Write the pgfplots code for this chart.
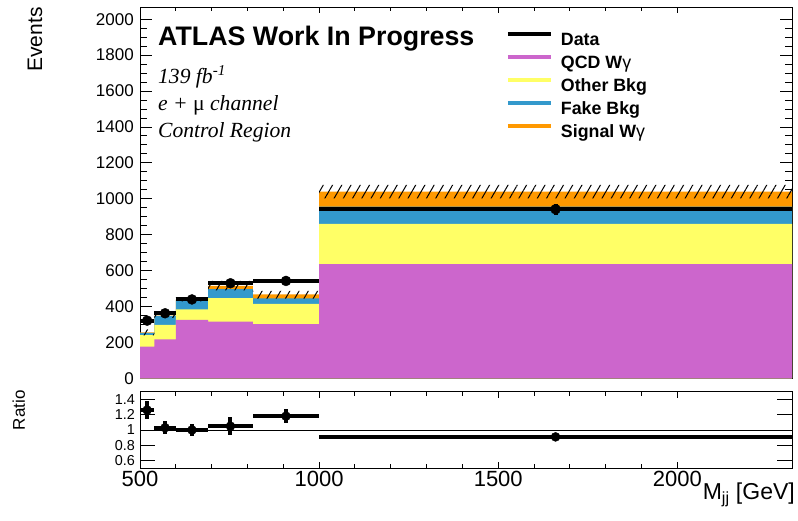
\documentclass[border=0pt]{standalone}
\usepackage{pgfplots}
\pgfplotsset{compat=1.18}
\usepackage{fontspec}
\setmainfont{Liberation Sans}
\newfontfamily\timesfont{Liberation Serif}
\usetikzlibrary{patterns.meta}
\definecolor{qcd}{RGB}{204,102,204}
\definecolor{oth}{RGB}{255,255,102}
\definecolor{fake}{RGB}{51,153,204}
\definecolor{sig}{RGB}{255,153,0}
\pgfplotsset{
  root/.style={
    scale only axis, width=652pt,
    xmin=500, xmax=2320,
    tick align=inside,
    axis line style={line width=1pt},
    every tick/.style={black, line width=0.9pt},
    xtick={500,1000,1500,2000}, minor x tick num=4,
    /pgf/number format/assume math mode=true,
    /pgf/number format/1000 sep={},
    xtick style={/pgfplots/major tick length=6pt,/pgfplots/minor tick length=4pt},
  }
}
\begin{document}
\begin{tikzpicture}[x=1pt,y=1pt]
\useasboundingbox (0,0) rectangle (798,521);
% ---------------- main panel
\begin{axis}[root,
  at={(140pt,142.5pt)}, anchor=south west, height=371.2pt,
  ymin=0, ymax=2066,
  xticklabels={},
  ytick={0,200,...,2000}, minor y tick num=3,
  ytick style={/pgfplots/major tick length=12pt,/pgfplots/minor tick length=7pt},
  yticklabel style={font=\fontsize{17}{17}\selectfont, inner sep=0pt, xshift=-6pt},
  ylabel={Events},
  ylabel style={at={(axis description cs:-0.161,1)}, anchor=east, inner sep=0pt, font=\fontsize{21}{21}\selectfont},
  legend style={at={(axis description cs:0.5613,0.936)}, anchor=north west, draw=none, fill=none,
    inner sep=0pt, outer sep=0pt, row sep=4pt, column sep=7pt,
    font=\fontsize{17.8}{17.8}\selectfont\bfseries,
    nodes={inner sep=1pt, text height=13pt, text depth=4pt}, cells={anchor=west}},
  legend image code/.code={\draw[#1] (0pt,6.5pt) -- (43pt,6.5pt);},
]
% stacked histogram (cumulative tops)
\addplot[forget plot, fill=sig, draw=none, const plot mark left] coordinates
  {(500,257)(540,350)(600,441)(690,515)(815,468)(1000,1040)(2320,1040)} \closedcycle;
\addplot[forget plot, fill=fake, draw=none, const plot mark left] coordinates
  {(500,254)(540,348)(600,438)(690,497)(815,446)(1000,957)(2320,957)} \closedcycle;
\addplot[forget plot, fill=oth, draw=none, const plot mark left] coordinates
  {(500,242)(540,298)(600,385)(690,447)(815,415)(1000,860)(2320,860)} \closedcycle;
\addplot[forget plot, fill=qcd, draw=none, const plot mark left] coordinates
  {(500,177)(540,218)(600,326)(690,316)(815,303)(1000,637)(2320,637)} \closedcycle;
% uncertainty band
\addplot[forget plot, draw=none, pattern={Lines[angle=60,distance=8pt,line width=1pt]}, pattern color=black, unbounded coords=jump] table {
x y
500 240
540 240
540 274
500 274
500 nan
540 338
600 338
600 362
540 362
540 nan
600 429
690 429
690 453
600 453
600 nan
690 490
815 490
815 544
690 544
690 nan
815 445
1000 445
1000 488
815 488
815 nan
1000 1003
2320 1003
2320 1077
1000 1077
};
% data
\addplot[forget plot, only marks, mark=*, mark size=5pt, black,
  error bars/.cd, x dir=both, x explicit, y dir=both, y explicit, error mark=none,
  error bar style={line width=4pt}] table[x=x,y=y,x error=ex,y error=ey] {
x y ex ey
520 322 20 18
570 363 30 19
645 440 45 21
752.5 530 62.5 23
907.5 543 92.5 23
1660 942 660 31
};
\addlegendimage{black, line width=4pt}\addlegendentry{Data}
\addlegendimage{qcd, line width=4pt}\addlegendentry{QCD W{\mdseries γ}}
\addlegendimage{oth, line width=4pt}\addlegendentry{Other Bkg}
\addlegendimage{fake, line width=4pt}\addlegendentry{Fake Bkg}
\addlegendimage{sig, line width=4pt}\addlegendentry{Signal W{\mdseries γ}}
\node[anchor=base west, inner sep=0pt, font=\fontsize{26.8}{26.8}\selectfont\bfseries] at (axis description cs:0.0276,0.8966) {ATLAS Work In Progress};
\node[anchor=base west, inner sep=0pt, font=\fontsize{21.6}{21.6}\timesfont\itshape] at (axis description cs:0.0276,0.7953) {139 fb\textsuperscript{-1}};
\node[anchor=base west, inner sep=0pt, font=\fontsize{21.6}{21.6}\timesfont\itshape] at (axis description cs:0.0276,0.7233) {e + {\upshape μ} channel};
\node[anchor=base west, inner sep=0pt, font=\fontsize{21.6}{21.6}\timesfont\itshape] at (axis description cs:0.0276,0.6487) {Control Region};
\end{axis}
% ---------------- ratio panel
\begin{axis}[root,
  at={(140pt,52.7pt)}, anchor=south west, height=76.6pt,
  ymin=0.5, ymax=1.5,
  ytick={0.6,0.8,1,1.2,1.4},
  ytick style={/pgfplots/major tick length=15pt},
  yticklabel style={font=\fontsize{14.4}{14.4}\selectfont, inner sep=0pt, xshift=-5pt},
  xticklabel style={font=\fontsize{22}{22}\selectfont, inner sep=1pt, yshift=-2pt},
  ylabel={Ratio},
  ylabel style={at={(axis description cs:-0.186,1.02)}, anchor=east, inner sep=0pt, font=\fontsize{17}{17}\selectfont},
  xlabel={M\textsubscript{jj} [GeV]},
  xlabel style={at={(axis description cs:1.0046,0)}, anchor=base east, inner sep=0pt, yshift=-31pt, font=\fontsize{23}{23}\selectfont},
]
\addplot[black, line width=0.8pt] coordinates {(500,1)(2320,1)};
\addplot[only marks, mark=*, mark size=4.5pt, black,
  error bars/.cd, x dir=both, x explicit, y dir=both, y explicit, error mark=none,
  error bar style={line width=4pt}] table[x=x,y=y,x error=ex,y error=ey] {
x y ex ey
520 1.26 20 0.114
570 1.03 30 0.086
645 1.00 45 0.075
752.5 1.05 62.5 0.12
907.5 1.18 92.5 0.09
1660 0.91 660 0.02
};
\end{axis}
\end{tikzpicture}
\end{document}
